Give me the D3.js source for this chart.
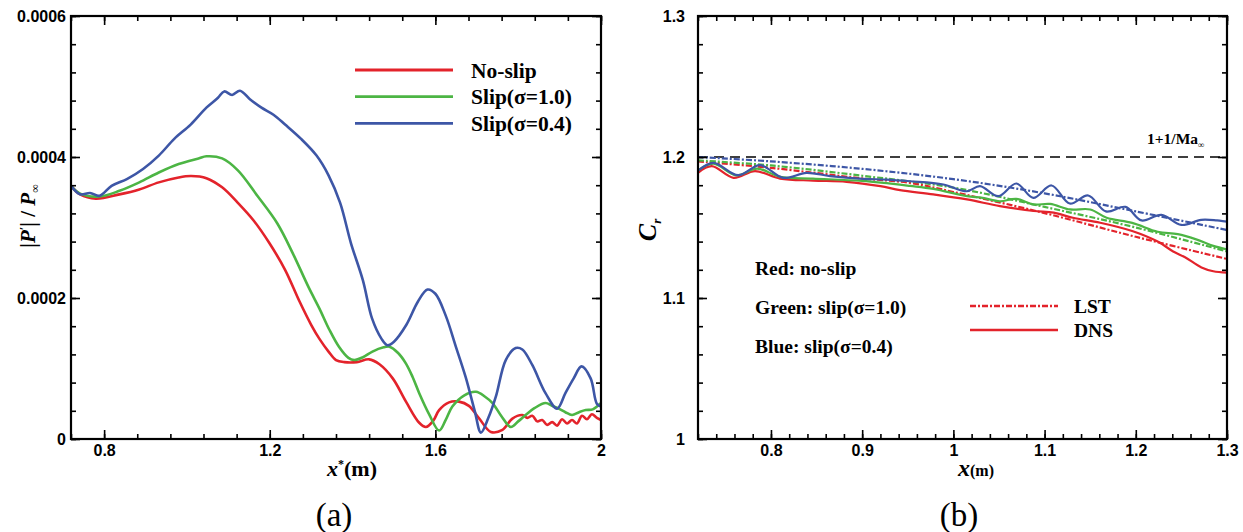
<!DOCTYPE html>
<html lang="en">
<head>
	<meta charset="UTF-8">
	<title>Pressure amplitude and phase speed</title>
	<script src="https://d3js.org/d3.v7.min.js"></script>
	<style>
		body { margin: 0; background: #fff; }
		svg { display: block; }
		.tick text { font-family: "Liberation Sans", Arial, sans-serif; font-weight: bold; font-size: 16px; fill: #000; }
		.tick line { stroke: #000; stroke-width: 1.6; }
		.serif { font-family: "Liberation Serif", "Times New Roman", serif; font-weight: bold; fill: #000; }
	</style>
</head>
<body>
<svg id="chart" width="1243" height="532"></svg>
<script>
	// ---- panel (a): |P'|/P_inf along x* ----
	const noSlipP = [[0.72,0.000359],[0.742,0.000347],[0.78,0.000341],[0.837,0.000347],[0.885,0.000354],[0.932,0.000364],[0.98,0.000371],[1.01,0.000373],[1.047,0.00037],[1.085,0.000357],[1.123,0.000335],[1.161,0.00031],[1.199,0.000278],[1.237,0.00024],[1.272,0.000195],[1.30,0.000162],[1.32,0.000142],[1.342,0.000124],[1.36,0.000112],[1.38,0.000109],[1.41,0.000109],[1.44,0.000113],[1.465,0.000106],[1.497,0.000086],[1.529,0.000053],[1.561,0.000023],[1.577,0.000017],[1.595,0.000026],[1.609,0.000041],[1.633,0.000052],[1.657,0.000053],[1.681,0.000047],[1.706,0.000029],[1.734,0.00001],[1.762,0.000013],[1.786,0.000029],[1.81,0.000034],[1.822,0.00003],[1.834,0.000033],[1.846,0.000025],[1.858,0.000027],[1.87,0.00002],[1.882,0.000024],[1.894,0.000019],[1.906,0.000028],[1.918,0.000022],[1.93,0.000027],[1.942,0.000022],[1.954,0.000033],[1.966,0.000028],[1.978,0.000035],[1.99,0.00003],[2.0,0.000027]];
	const slip10P = [[0.72,0.000359],[0.742,0.000348],[0.789,0.000344],[0.837,0.000352],[0.885,0.000364],[0.932,0.000378],[0.98,0.00039],[1.028,0.000398],[1.047,0.000401],[1.085,0.000398],[1.123,0.000381],[1.17,0.000345],[1.218,0.000306],[1.256,0.000263],[1.294,0.000215],[1.32,0.000185],[1.344,0.000155],[1.368,0.00013],[1.39,0.000115],[1.404,0.000112],[1.425,0.000116],[1.448,0.000124],[1.475,0.00013],[1.489,0.000131],[1.51,0.000122],[1.529,0.000107],[1.545,0.000088],[1.561,0.000065],[1.585,0.000035],[1.609,0.000012],[1.625,0.000027],[1.641,0.000046],[1.67,0.000062],[1.698,0.000067],[1.72,0.00006],[1.738,0.000051],[1.76,0.000032],[1.782,0.000017],[1.80,0.000025],[1.818,0.000034],[1.84,0.000044],[1.866,0.000051],[1.882,0.000047],[1.898,0.000043],[1.914,0.000038],[1.93,0.000034],[1.947,0.000038],[1.963,0.000041],[1.98,0.000042],[2.0,0.000051]];
	const slip04P = [[0.72,0.000359],[0.742,0.000347],[0.766,0.000349],[0.789,0.000345],[0.818,0.000359],[0.856,0.000369],[0.894,0.000383],[0.932,0.000402],[0.97,0.000426],[1.009,0.000446],[1.047,0.00047],[1.075,0.000484],[1.09,0.000493],[1.109,0.000488],[1.128,0.000494],[1.152,0.000482],[1.18,0.00047],[1.209,0.00046],[1.237,0.000446],[1.275,0.000426],[1.313,0.000402],[1.342,0.000374],[1.37,0.000335],[1.396,0.000278],[1.425,0.000225],[1.447,0.000171],[1.47,0.000142],[1.484,0.000133],[1.50,0.000138],[1.53,0.000162],[1.558,0.000195],[1.581,0.000212],[1.60,0.000206],[1.625,0.000175],[1.65,0.00013],[1.673,0.000088],[1.695,0.00004],[1.71,0.000009],[1.728,0.00003],[1.746,0.00006],[1.77,0.000112],[1.794,0.000129],[1.81,0.000127],[1.834,0.000105],[1.866,0.000065],[1.894,0.000043],[1.914,0.000065],[1.934,0.000086],[1.953,0.000103],[1.975,0.000086],[1.99,0.00005],[2.0,0.000046]];

	const aXTicks = [0.8, 1.2, 1.6, 2];
	const aYTicks = [0, 0.0002, 0.0004, 0.0006];
	const aLegend = ["No-slip", "Slip(\u03c3=1.0)", "Slip(\u03c3=0.4)"];

	// ---- panel (b): phase speed C_r along x ----
	const redDNS = [[0.72,1.1888],[0.735,1.1935],[0.759,1.1852],[0.7825,1.190],[0.81,1.1847],[0.846,1.1833],[0.883,1.1824],[0.92,1.1793],[0.9415,1.1765],[0.978,1.1735],[1.015,1.1699],[1.051,1.1652],[1.088,1.1617],[1.11,1.1605],[1.131,1.1569],[1.161,1.1534],[1.196,1.1475],[1.224,1.1400],[1.241,1.1330],[1.254,1.1289],[1.272,1.1217],[1.285,1.1190],[1.30,1.1180]];
	const greenDNS = [[0.72,1.1906],[0.737,1.1952],[0.762,1.1870],[0.785,1.1918],[0.81,1.1859],[0.846,1.1847],[0.90,1.1830],[0.9525,1.1795],[0.978,1.1774],[1.015,1.1722],[1.032,1.1710],[1.051,1.1686],[1.069,1.1703],[1.088,1.1663],[1.106,1.1667],[1.128,1.1628],[1.15,1.1628],[1.168,1.1569],[1.196,1.1533],[1.224,1.1470],[1.246,1.1453],[1.267,1.1414],[1.285,1.1370],[1.30,1.1345]];
	const blueDNS = [[0.72,1.1904],[0.737,1.1959],[0.764,1.1871],[0.788,1.1942],[0.8135,1.1852],[0.839,1.1888],[0.865,1.1864],[0.901,1.1845],[0.927,1.1840],[0.9525,1.1828],[0.989,1.1805],[1.0146,1.1757],[1.0292,1.1793],[1.0493,1.1722],[1.069,1.1812],[1.0876,1.1710],[1.1076,1.1798],[1.1276,1.1670],[1.1478,1.1727],[1.1672,1.1614],[1.1888,1.1646],[1.2063,1.1550],[1.2281,1.1590],[1.2499,1.1518],[1.2717,1.1554],[1.2891,1.1550],[1.30,1.1542]];
	const redLST = [[0.72,1.1969],[0.8,1.1923],[0.9,1.1848],[0.9525,1.1816],[1.0,1.1752],[1.1,1.1602],[1.2,1.1434],[1.3,1.1277]];
	const greenLST = [[0.72,1.1976],[0.8,1.1940],[0.9,1.1867],[1.0,1.1783],[1.1,1.1646],[1.2,1.1500],[1.3,1.1330]];
	const blueLST = [[0.72,1.2000],[0.8,1.1969],[0.9,1.1916],[1.0,1.1843],[1.1,1.1742],[1.2,1.1614],[1.3,1.1482]];
	const crLimit = 1.2;   // 1 + 1/Ma_inf

	const bXTicks = [0.8, 0.9, 1, 1.1, 1.2, 1.3];
	const bYTicks = [1, 1.1, 1.2, 1.3];
	const bNotes = ["Red: no-slip", "Green: slip(\u03c3=1.0)", "Blue: slip(\u03c3=0.4)"];
	const bLegend = ["LST", "DNS"];

	const red = "#e3232b", green = "#4cb544", blue = "#3d56a6";
	const lstDash = "6,2,2,2";

	const svg = d3.select("#chart");

	// inward ticks on all four sides plus the frame
	function drawFrame(g, x, y, o) {
		const w = x.range()[1] - x.range()[0];
		const h = y.range()[0] - y.range()[1];

		g.append("g").attr("transform", "translate(0," + h + ")")
			.call(d3.axisBottom(x).tickValues(o.xMinor).tickSize(-5).tickFormat(""));
		g.append("g")
			.call(d3.axisTop(x).tickValues(o.xMinor).tickSize(-5).tickFormat(""));
		g.append("g")
			.call(d3.axisLeft(y).tickValues(o.yMinor).tickSize(-5).tickFormat(""));
		g.append("g").attr("transform", "translate(" + w + ",0)")
			.call(d3.axisRight(y).tickValues(o.yMinor).tickSize(-5).tickFormat(""));

		g.append("g").attr("transform", "translate(0," + h + ")")
			.call(d3.axisBottom(x).tickValues(o.xMajor).tickSize(-9).tickPadding(7).tickFormat(o.xFmt));
		g.append("g")
			.call(d3.axisTop(x).tickValues(o.xMajor).tickSize(-9).tickFormat(""));
		g.append("g")
			.call(d3.axisLeft(y).tickValues(o.yMajor).tickSize(-9).tickPadding(o.yPad).tickFormat(o.yFmt));
		g.append("g").attr("transform", "translate(" + w + ",0)")
			.call(d3.axisRight(y).tickValues(o.yMajor).tickSize(-9).tickFormat(""));

		g.selectAll(".domain").remove();
		g.selectAll(".tick text").attr("dy", function() {
			return d3.select(this.parentNode.parentNode).attr("transform") ? "0.62em" : "0.35em";
		});

		g.append("rect")
			.attr("width", w).attr("height", h)
			.attr("fill", "none").attr("stroke", "#000").attr("stroke-width", 2.2);
	}

	function clip(id, w, h) {
		svg.append("clipPath").attr("id", id)
			.append("rect").attr("width", w).attr("height", h);
	}

	// ================= panel (a) =================
	const pa = {left: 71, right: 601, top: 16, bottom: 439};
	const xa = d3.scaleLinear().domain([0.72, 2]).range([0, pa.right - pa.left]);
	const ya = d3.scaleLinear().domain([0, 0.0006]).range([pa.bottom - pa.top, 0]);
	const ga = svg.append("g").attr("transform", "translate(" + pa.left + "," + pa.top + ")");
	clip("clipA", pa.right - pa.left, pa.bottom - pa.top);

	const lineA = d3.line()
		.x(d => xa(d[0]))
		.y(d => ya(d[1]))
		.curve(d3.curveCatmullRom.alpha(0.5));

	const seriesA = [
		{data: noSlipP, color: red},
		{data: slip10P, color: green},
		{data: slip04P, color: blue}
	];

	ga.append("g").attr("clip-path", "url(#clipA)")
		.selectAll("path")
		.data(seriesA)
		.enter().append("path")
		.attr("d", d => lineA(d.data))
		.attr("fill", "none")
		.attr("stroke", d => d.color)
		.attr("stroke-width", 2.6)
		.attr("stroke-linejoin", "round");

	drawFrame(ga, xa, ya, {
		xMajor: aXTicks,
		xMinor: d3.range(17).map(i => 0.72 + i * 0.08),
		yMajor: aYTicks,
		yMinor: d3.range(16).map(i => i * 0.00004),
		xFmt: d3.format(""),
		yFmt: d => d === 0 ? "0" : d.toFixed(4),
		yPad: 5
	});

	// legend (a)
	const legA = svg.append("g").attr("transform", "translate(355,70)");
	legA.selectAll("line")
		.data(seriesA)
		.enter().append("line")
		.attr("x1", 0).attr("x2", 98)
		.attr("y1", (d, i) => i * 26.7).attr("y2", (d, i) => i * 26.7)
		.attr("stroke", d => d.color).attr("stroke-width", 2.8);
	legA.selectAll("text")
		.data(aLegend)
		.enter().append("text")
		.attr("class", "serif")
		.attr("x", 116).attr("y", (d, i) => i * 26.7)
		.attr("dy", "0.35em")
		.style("font-size", "21.5px")
		.text(d => d);

	// axis titles (a)
	const xTitleA = svg.append("text").attr("class", "serif")
		.attr("x", 352).attr("y", 476).attr("text-anchor", "middle").style("font-size", "22px");
	xTitleA.append("tspan").style("font-style", "italic").text("x");
	xTitleA.append("tspan").attr("dy", -8).style("font-size", "12px").text("*");
	xTitleA.append("tspan").attr("dy", 8).text("(m)");

	const yTitleA = svg.append("text").attr("class", "serif")
		.attr("transform", "translate(35,216) rotate(-90)")
		.attr("text-anchor", "middle").style("font-size", "21px");
	yTitleA.append("tspan").text("|");
	yTitleA.append("tspan").style("font-style", "italic").text("P");
	yTitleA.append("tspan").attr("dy", -7).style("font-size", "13px").text("\u2032");
	yTitleA.append("tspan").attr("dy", 7).text("| / ");
	yTitleA.append("tspan").style("font-style", "italic").text("P");
	yTitleA.append("tspan").attr("dy", 4).style("font-size", "12px").style("font-weight", "normal").text("\u221e");

	svg.append("text")
		.attr("x", 334).attr("y", 526).attr("text-anchor", "middle")
		.style("font-family", "'Liberation Serif', 'Times New Roman', serif")
		.style("font-size", "33px")
		.text("(a)");

	// ================= panel (b) =================
	const pb = {left: 698, right: 1227, top: 16, bottom: 439};
	const xb = d3.scaleLinear().domain([0.72, 1.3]).range([0, pb.right - pb.left]);
	const yb = d3.scaleLinear().domain([1, 1.3]).range([pb.bottom - pb.top, 0]);
	const gb = svg.append("g").attr("transform", "translate(" + pb.left + "," + pb.top + ")");
	clip("clipB", pb.right - pb.left, pb.bottom - pb.top);

	const lineB = d3.line()
		.x(d => xb(d[0]))
		.y(d => yb(d[1]))
		.curve(d3.curveCatmullRom.alpha(0.5));

	const seriesB = [
		{data: redLST, color: red, dash: lstDash},
		{data: greenLST, color: green, dash: lstDash},
		{data: blueLST, color: blue, dash: lstDash},
		{data: redDNS, color: red, dash: null},
		{data: greenDNS, color: green, dash: null},
		{data: blueDNS, color: blue, dash: null}
	];

	const plotB = gb.append("g").attr("clip-path", "url(#clipB)");

	plotB.append("line")
		.attr("x1", xb(0.72)).attr("x2", xb(1.3))
		.attr("y1", yb(crLimit)).attr("y2", yb(crLimit))
		.attr("stroke", "#000").attr("stroke-width", 1.6)
		.attr("stroke-dasharray", "10,6");

	plotB.selectAll("path.curve")
		.data(seriesB)
		.enter().append("path")
		.attr("class", "curve")
		.attr("d", d => lineB(d.data))
		.attr("fill", "none")
		.attr("stroke", d => d.color)
		.attr("stroke-width", 2.2)
		.attr("stroke-dasharray", d => d.dash);

	drawFrame(gb, xb, yb, {
		xMajor: bXTicks,
		xMinor: d3.range(30).map(i => 0.72 + i * 0.02),
		yMajor: bYTicks,
		yMinor: d3.range(16).map(i => 1 + i * 0.02),
		xFmt: d3.format(""),
		yFmt: d3.format(""),
		yPad: 13
	});

	// limit label
	const limText = svg.append("text").attr("class", "serif")
		.attr("x", 1147).attr("y", 144).style("font-size", "15.5px");
	limText.append("tspan").text("1+1/Ma");
	limText.append("tspan").attr("dy", 4).style("font-size", "9px").text("\u221e");

	// colour notes
	svg.append("g").selectAll("text")
		.data(bNotes)
		.enter().append("text")
		.attr("class", "serif")
		.attr("x", 755).attr("y", (d, i) => 268 + i * 39)
		.attr("dy", "0.35em")
		.style("font-size", "19.5px")
		.text(d => d);

	// LST / DNS legend
	const legB = svg.append("g").attr("transform", "translate(970,306)");
	legB.selectAll("line")
		.data(bLegend)
		.enter().append("line")
		.attr("x1", 0).attr("x2", 88)
		.attr("y1", (d, i) => i * 24).attr("y2", (d, i) => i * 24)
		.attr("stroke", red).attr("stroke-width", 2.4)
		.attr("stroke-dasharray", (d, i) => i === 0 ? lstDash : null);
	legB.selectAll("text")
		.data(bLegend)
		.enter().append("text")
		.attr("class", "serif")
		.attr("x", 104).attr("y", (d, i) => i * 24)
		.attr("dy", "0.35em")
		.style("font-size", "19.5px")
		.text(d => d);

	// axis titles (b)
	const xTitleB = svg.append("text").attr("class", "serif")
		.attr("x", 976).attr("y", 476).attr("text-anchor", "middle");
	xTitleB.append("tspan").style("font-style", "italic").style("font-size", "24px").text("x");
	xTitleB.append("tspan").style("font-size", "16px").text("(m)");

	const yTitleB = svg.append("text").attr("class", "serif")
		.attr("transform", "translate(656,230) rotate(-90)")
		.attr("text-anchor", "middle");
	yTitleB.append("tspan").style("font-style", "italic").style("font-size", "26px").text("C");
	yTitleB.append("tspan").attr("dy", 5).style("font-style", "italic").style("font-size", "13px").text("r");

	svg.append("text")
		.attr("x", 959).attr("y", 526).attr("text-anchor", "middle")
		.style("font-family", "'Liberation Serif', 'Times New Roman', serif")
		.style("font-size", "33px")
		.text("(b)");
</script>
</body>
</html>
